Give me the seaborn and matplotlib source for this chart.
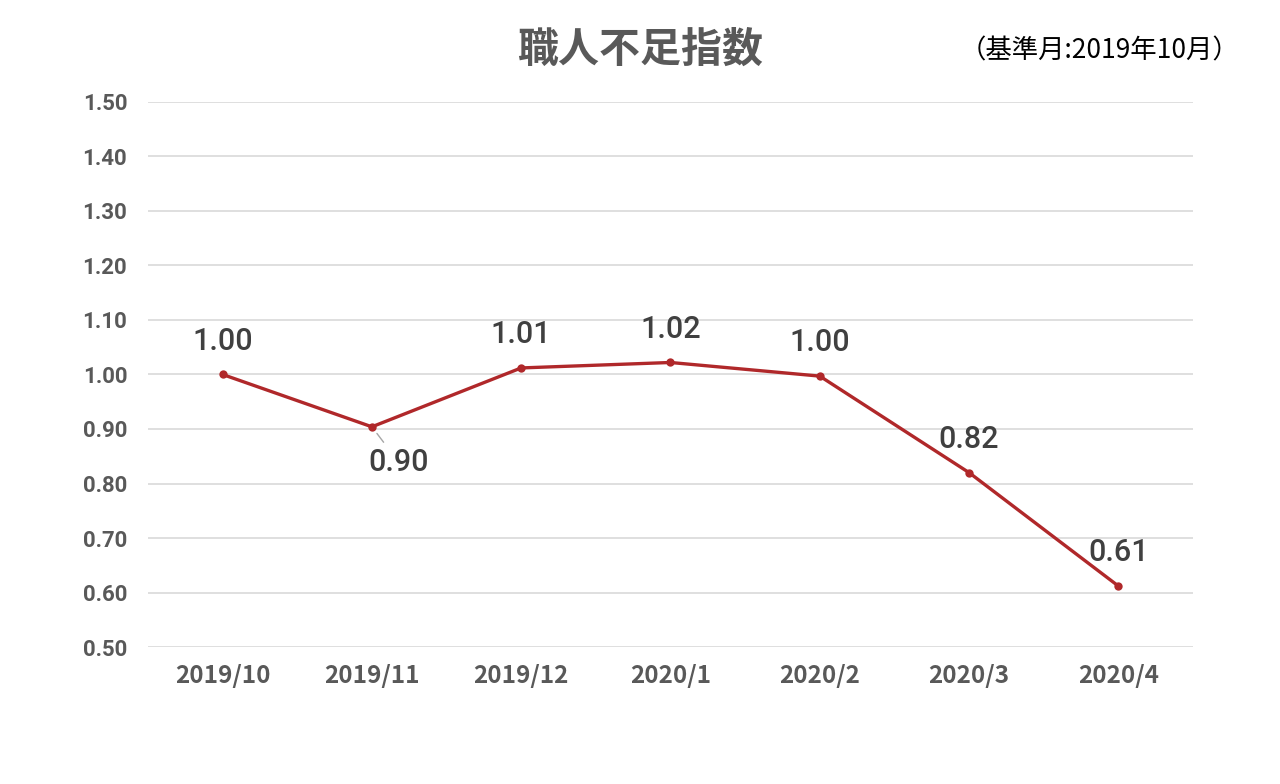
import matplotlib
matplotlib.use("Agg")
import matplotlib.pyplot as plt
import pandas as pd
import seaborn as sns

months = ["2019/10", "2019/11", "2019/12", "2020/1", "2020/2", "2020/3", "2020/4"]
index_values = [1.000, 0.904, 1.012, 1.022, 0.997, 0.820, 0.612]
value_labels = ["1.00", "0.90", "1.01", "1.02", "1.00", "0.82", "0.61"]
y_ticks = [0.5, 0.6, 0.7, 0.8, 0.9, 1.0, 1.1, 1.2, 1.3, 1.4, 1.5]

title = "職人不足指数"
subtitle = "（基準月:2019年10月）"

sns.set_theme(style="white")
plt.rcParams["font.family"] = ["Noto Sans CJK JP", "DejaVu Sans"]

df = pd.DataFrame({"month": months, "value": index_values})
df["pos"] = range(len(df))

fig = plt.figure(figsize=(12.8, 7.84), dpi=100)
ax = fig.add_axes([0.1156, 0.1747, 0.8164, 0.6953])

sns.lineplot(data=df, x="pos", y="value", ax=ax, color="#B0282A",
             linewidth=2.4, marker="o", markersize=6, markeredgewidth=0)

ax.set_xlim(-0.5, len(months) - 0.5)
ax.set_ylim(0.5, 1.5)
ax.set_yticks(y_ticks)
ax.set_yticklabels([f"{t:.2f}" for t in y_ticks], family="Roboto",
                   fontsize=16, fontweight="bold", color="#595959")
ax.set_xticks(df["pos"])
ax.set_xticklabels(months, fontsize=17.5, fontweight="bold", color="#595959")
ax.tick_params(axis="x", length=0, pad=12)
ax.tick_params(axis="y", length=0, pad=15)
ax.grid(axis="y", color="#D9D9D9", linewidth=1.2)
ax.set_axisbelow(True)
for s in ax.spines.values():
    s.set_visible(False)
ax.set_xlabel("")
ax.set_ylabel("")

for i, (v, lab) in enumerate(zip(index_values, value_labels)):
    if lab == "0.90":
        # this label sits below its point, tied to it by a short grey leader
        ax.annotate(lab, xy=(i, v), xytext=(i + 0.18, v - 0.065),
                    ha="center", va="center", family="Roboto", fontsize=22,
                    fontweight="medium", color="#404040",
                    arrowprops=dict(arrowstyle="-", color="#A6A6A6", lw=1,
                                    shrinkA=2, shrinkB=6))
    else:
        ax.annotate(lab, xy=(i, v), xytext=(0, 24), textcoords="offset points",
                    ha="center", va="center", family="Roboto", fontsize=22,
                    fontweight="medium", color="#404040")

fig.text(0.5, 0.937, title, ha="center", va="center", fontsize=29.5,
         fontweight="bold", color="#595959")
fig.text(0.968, 0.935, subtitle, ha="right", va="center", fontsize=19,
         color="#000000")

fig.savefig("out.png", dpi=100)
